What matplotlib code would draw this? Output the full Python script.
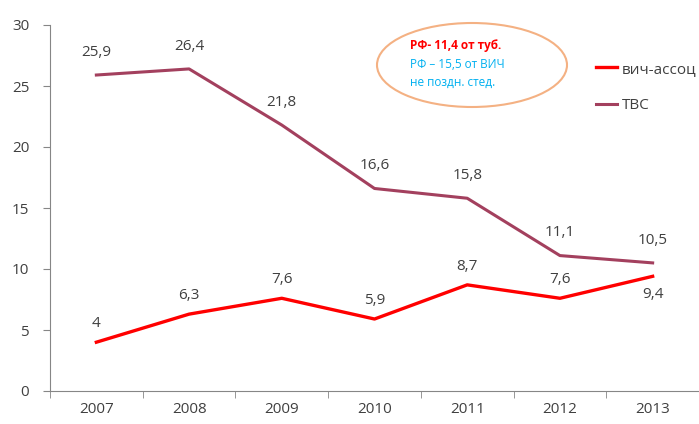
import matplotlib.pyplot as plt
from matplotlib.patches import Ellipse
import numpy as np

years = ['2007', '2008', '2009', '2010', '2011', '2012', '2013']
hiv_assoc = [4, 6.3, 7.6, 5.9, 8.7, 7.6, 9.4]
tbs = [25.9, 26.4, 21.8, 16.6, 15.8, 11.1, 10.5]
hiv_label_pos = ['above', 'above', 'above', 'above', 'above', 'above', 'below']

plt.rcParams['font.family'] = ['Open Sans', 'DejaVu Sans']
text_col = '#404040'
axis_col = '#868686'

fig = plt.figure(figsize=(6.99, 4.24), dpi=100)
ax = fig.add_axes([50 / 699, 1 - 391 / 424, 1 - 50 / 699, (391 - 25) / 424])

x = np.arange(len(years))
ax.plot(x, hiv_assoc, color='#FF0000', lw=2.4, label='вич-ассоц')
ax.plot(x, tbs, color='#A3405E', lw=2.2, label='ТВС')

def fmt(v):
    return ('%g' % v).replace('.', ',')

for i, v in enumerate(tbs):
    ax.annotate(fmt(v), (i, v), xytext=(0, 11), textcoords='offset points',
                ha='center', va='bottom', fontsize=11, color=text_col)
for i, v in enumerate(hiv_assoc):
    if hiv_label_pos[i] == 'above':
        ax.annotate(fmt(v), (i, v), xytext=(0, 8), textcoords='offset points',
                    ha='center', va='bottom', fontsize=11, color=text_col)
    else:
        ax.annotate(fmt(v), (i, v), xytext=(0, -8), textcoords='offset points',
                    ha='center', va='top', fontsize=11, color=text_col)

ax.set_xlim(-0.5, len(years) - 0.5)
ax.set_ylim(0, 30)
ax.set_yticks(range(0, 31, 5))
ax.set_xticks(x)
ax.set_xticklabels(years)
ax.set_xticks(np.arange(-0.5, len(years), 1), minor=True)
ax.tick_params(axis='x', which='major', length=0, pad=8, labelsize=11, labelcolor=text_col)
ax.tick_params(axis='x', which='minor', length=5, direction='out', color=axis_col)
ax.tick_params(axis='y', length=5, color=axis_col, pad=10, labelsize=11, labelcolor=text_col)
for s in ['top', 'right']:
    ax.spines[s].set_visible(False)
for s in ['left', 'bottom']:
    ax.spines[s].set_color(axis_col)

# note in the ellipse
ell = Ellipse((472 / 699, 1 - 65 / 424), 190 / 699, 84 / 424, transform=fig.transFigure,
              facecolor='white', edgecolor='#F4B183', lw=1.5, zorder=5)
fig.patches.append(ell)
fig.text(410 / 699, 1 - 46 / 424, 'РФ- 11,4 от туб.', color='#FF0000', fontsize=8.5,
         fontweight='bold', va='center', ha='left', zorder=6)
fig.text(410 / 699, 1 - 64 / 424, 'РФ – 15,5 от ВИЧ', color='#00B0F0', fontsize=8.5,
         va='center', ha='left', zorder=6)
fig.text(410 / 699, 1 - 82 / 424, 'не поздн. стед.', color='#00B0F0', fontsize=8.5,
         va='center', ha='left', zorder=6)

leg = fig.legend(loc='upper left', bbox_to_anchor=(582 / 699, 1 - 48 / 424), frameon=False,
                 fontsize=11, handlelength=1.4, handletextpad=0.3, labelspacing=1.4)
for t in leg.get_texts():
    t.set_color(text_col)

fig.savefig('out.png', dpi=100)
